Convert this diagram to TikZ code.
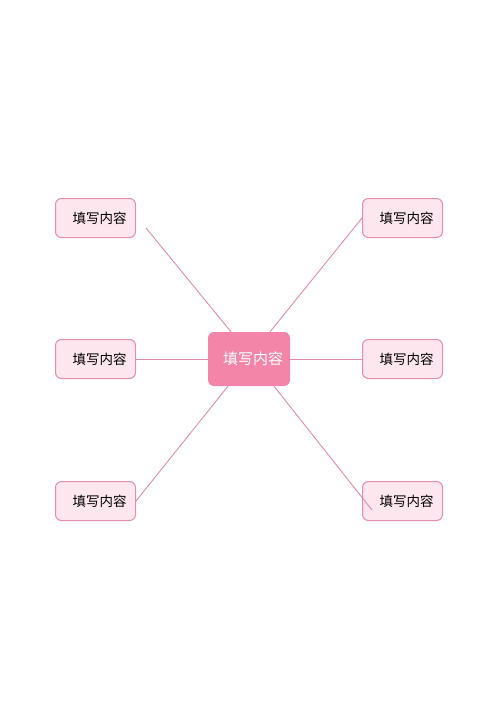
\documentclass[tikz,border=0pt]{standalone}
\usepackage{fontspec}
\setmainfont{Noto Sans CJK SC}
\definecolor{hubpink}{HTML}{F386A8}
\definecolor{leaffill}{HTML}{FDE6EE}
\definecolor{leafline}{HTML}{E48DAD}
\definecolor{linkpink}{HTML}{E38AA9}
\tikzset{
  hub/.style={fill=hubpink, rounded corners=6pt, minimum width=82pt, minimum height=54pt,
    inner sep=0pt, text=white, font=\fontsize{15}{18}\selectfont},
  leaf/.style={draw=leafline, fill=leaffill, line width=1pt, rounded corners=6pt,
    minimum width=80pt, minimum height=39pt, inner sep=0pt, font=\fontsize{13.5}{16}\selectfont},
  link/.style={draw=linkpink, line width=0.9pt}
}
\begin{document}
\begin{tikzpicture}[x=1pt, y=-1pt]
  \useasboundingbox (0,0) rectangle (500,707);
  % centre and the six leaves
  \node[hub] (hub) at (249,359) {\hspace*{8pt}填写内容};
  \node[leaf] (tl) at (95.5,218) {\hspace*{8pt}填写内容};
  \node[leaf] (ml) at (95.5,359) {\hspace*{8pt}填写内容};
  \node[leaf] (bl) at (95.5,501) {\hspace*{8pt}填写内容};
  \node[leaf] (tr) at (402.5,218) {\hspace*{8pt}填写内容};
  \node[leaf] (mr) at (402.5,359) {\hspace*{8pt}填写内容};
  \node[leaf] (br) at (402.5,501) {\hspace*{8pt}填写内容};
  % free ends of two links
  \coordinate (tlend) at (146,228);
  \coordinate (brend) at (372,510);
  % links
  \draw[link] (tlend) -- ([xshift=-18pt]hub.north);
  \draw[link] (tr.west) -- ([xshift=21pt]hub.north);
  \draw[link] (ml.east) -- (hub.west);
  \draw[link] (hub.east) -- (mr.west);
  \draw[link] ([xshift=-21pt]hub.south) -- (bl.east);
  \draw[link] ([xshift=25pt]hub.south) -- (brend);
\end{tikzpicture}
\end{document}
